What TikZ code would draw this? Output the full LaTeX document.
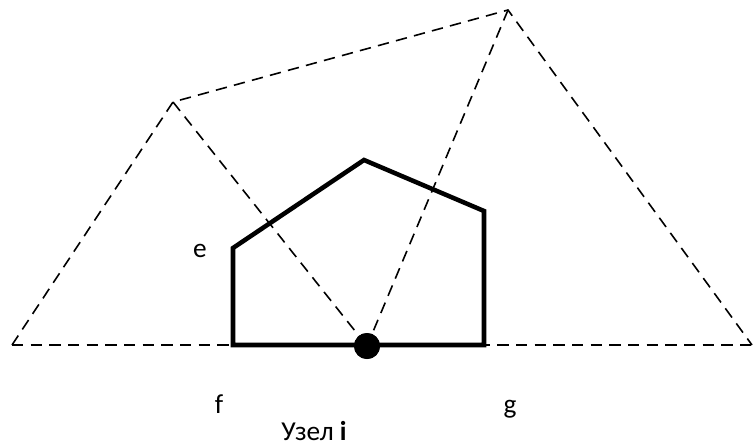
\documentclass[tikz,border=0pt]{standalone}
\usepackage{fontspec}
\setmainfont{Carlito}
\usetikzlibrary{positioning}
\definecolor{ink}{HTML}{000000}
\tikzset{
  figbase/.style={
    x=0.75pt, y=-0.75pt,
    font=\fontsize{20.5pt}{24pt}\selectfont,
    color=ink,
  },
  guide/.style={draw=ink, line width=1.2pt, dash pattern=on 8.5pt off 5.5pt},
  wall/.style={draw=ink, line width=3.4pt, line join=miter},
  knot/.style={circle, fill=ink, inner sep=0pt, minimum size=19.5pt},
  lab/.style={text=ink, inner sep=0pt, anchor=base},
}
\begin{document}
\begin{tikzpicture}[figbase]
  \useasboundingbox (0,0) rectangle (755,446);

  % triangle points
  \coordinate (bl) at (12,345);
  \coordinate (br) at (752,345);
  \coordinate (pl) at (173,102);
  \coordinate (pr) at (508,10);

  % polygon corners
  \coordinate (cf) at (233,345);
  \coordinate (ce) at (233,248);
  \coordinate (ct) at (364,160);
  \coordinate (cr) at (484,211);
  \coordinate (cg) at (484,345);

  \draw[guide] (bl) -- (br);
  \draw[guide] (bl) -- (pl) -- (pr) -- (br);

  \node[knot] (ni) at (367,346) {};
  \draw[guide] (pl) -- (ni.center);
  \draw[guide] (pr) -- (ni.center);

  \draw[wall] (cf) -- (ce) -- (ct) -- (cr) -- (cg) -- cycle;
  \node[knot] at (ni) {};

  \node[lab] (le) at (200,257) {e};
  \node[lab] (lf) at (219,413) {f};
  \node[lab] (lg) at (510,413) {g};
  \node[lab] (lu) at (314,440) {Узел \textbf{i}};
\end{tikzpicture}
\end{document}
